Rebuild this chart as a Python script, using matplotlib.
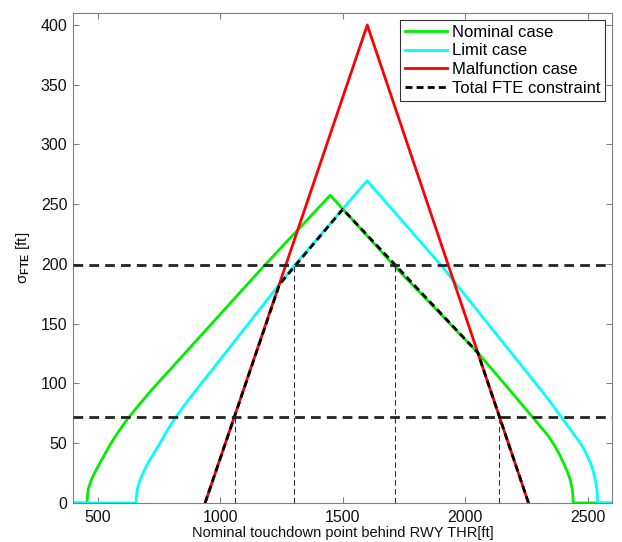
import numpy as np
import matplotlib.pyplot as plt

plt.rcParams['font.family'] = ['Liberation Sans', 'DejaVu Sans']
plt.rcParams['mathtext.fontset'] = 'custom'
plt.rcParams['mathtext.rm'] = 'Liberation Sans'
plt.rcParams['mathtext.bf'] = 'Liberation Sans:bold'

# Values (x in ft, sigma in ft)
nominal_x = [400, 457, 459, 463, 474, 490, 510, 530, 555, 590, 625, 665, 721,
             1178, 1450, 1713, 2052, 2182, 2275, 2320, 2340, 2361, 2382,
             2402, 2418, 2430, 2437, 2440, 2442, 2600]
nominal_y = [0, 0, 6, 12, 19, 26, 33.5, 41, 50, 61, 71, 81, 94.6,
             198, 257.5, 198, 125.8, 94.6, 72, 61, 56, 49.5, 42,
             33.5, 26, 19, 12, 6, 0, 0]

limit_x = [400, 657, 659, 663, 673, 688, 706, 728, 755, 785, 817, 850, 891,
           1300, 1600, 1906, 2310, 2350, 2389, 2430, 2471, 2492, 2512,
           2524, 2532, 2538, 2540, 2541, 2600]
limit_y = [0, 0, 6, 12, 19, 26, 33.5, 41, 50, 61, 71, 80.5, 91.5,
           198, 269.7, 198, 94.6, 84, 73, 61.5, 50, 42.5, 33.5,
           26, 19, 12, 6, 0, 0]

malf_x = [939, 1601, 2259]
malf_y = [0, 400, 0]

total_x = [939, 1243, 1501, 2052, 2259]
total_y = [0, 183, 245.8, 125.8, 0]

levels = [199, 72]
cut_x = [1062, 1300, 1713, 2138]
cut_y = [72, 199, 199, 72]

fig = plt.figure(figsize=(6.22, 5.42), dpi=100)
ax = fig.add_axes([0.1174, 0.072, 0.8666, 0.904])

ax.plot(nominal_x, nominal_y, color='#00ee00', lw=2, label='Nominal case')
ax.plot(limit_x, limit_y, color='#00ffff', lw=2, label='Limit case')
ax.plot(malf_x, malf_y, color='#ff0000', lw=2, label='Malfunction case')
ax.plot(total_x, total_y, color='k', lw=2, linestyle=(0, (2.5, 1.5)),
        label='Total FTE constraint')

for lv in levels:
    ax.axhline(lv, color='#222222', lw=2, linestyle=(0, (3.5, 2.2)), zorder=4)
for cx, cy in zip(cut_x, cut_y):
    ax.plot([cx, cx], [0, cy], color='#333333', lw=0.8,
            linestyle=(0, (5, 3)), zorder=4)

ax.set_xlim(400, 2600)
ax.set_ylim(0, 410)
ax.set_xticks([500, 1000, 1500, 2000, 2500])
ax.set_yticks(np.arange(0, 401, 50))

for s in ax.spines.values():
    s.set_color('#808080')
ax.tick_params(direction='in', top=True, right=True, length=4,
               color='#808080', labelsize=11.5, labelcolor='#111111')
ax.tick_params(axis='x', pad=5)
ax.tick_params(axis='y', pad=4)

ax.set_xlabel('Nominal touchdown point behind RWY THR[ft]', fontsize=10.5,
              color='#111111', labelpad=0.5)
ax.set_ylabel(r'$\mathrm{σ}_{\mathbf{FTE}}$ [ft]', fontsize=11,
              color='#111111', labelpad=6)

leg = ax.legend(loc='upper right', fontsize=12, handlelength=2.5,
                labelspacing=0.22, borderpad=0.3, handletextpad=0.3,
                borderaxespad=0.4, fancybox=False, framealpha=1)
leg.get_frame().set_edgecolor('#333333')
leg.get_frame().set_linewidth(0.8)

fig.savefig('out.png', dpi=100)
